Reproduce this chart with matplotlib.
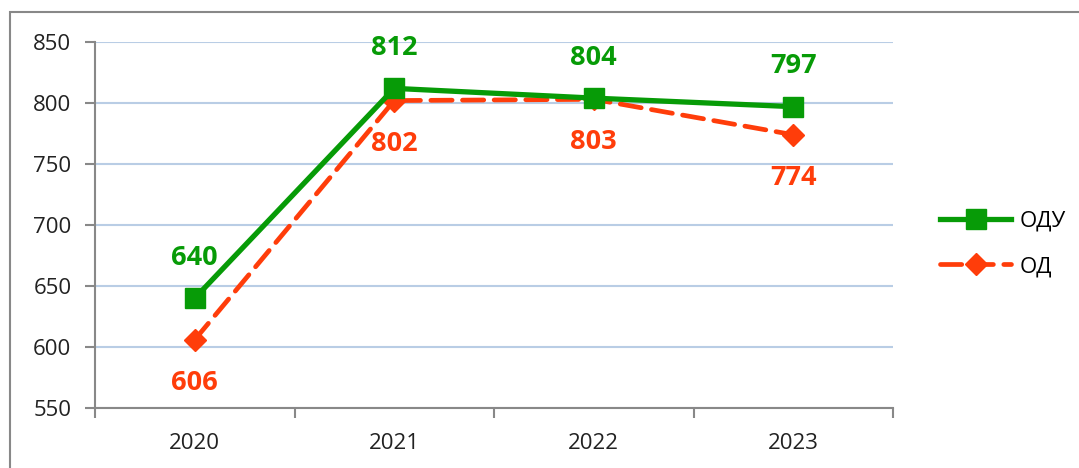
import matplotlib.pyplot as plt
from matplotlib.patches import Rectangle

years = ['2020', '2021', '2022', '2023']
odu = [640, 812, 804, 797]
od = [606, 802, 803, 774]

green = '#079B07'
red = '#FF3D0A'

plt.rcParams['font.family'] = ['Open Sans', 'DejaVu Sans']

fig = plt.figure(figsize=(10.79, 4.68), dpi=100)
ax = fig.add_axes([95 / 1079, 1 - 408 / 468, (893 - 95) / 1079, (408 - 42) / 468])

x = list(range(len(years)))
l1, = ax.plot(x, odu, color=green, lw=3.8, marker='s', markersize=15, label='ОДУ', zorder=4)
l2, = ax.plot(x, od, color=red, lw=3.4, ls=(0, (4.5, 2.2)), dash_capstyle='round',
              marker='D', markersize=11, label='ОД', zorder=3)

for i, v in enumerate(odu):
    ax.annotate(str(v), (i, v), xytext=(0, 29), textcoords='offset points', ha='center',
                va='center', color=green, fontsize=19.5, fontweight='bold')
for i, v in enumerate(od):
    ax.annotate(str(v), (i, v), xytext=(0, -31), textcoords='offset points', ha='center',
                va='center', color=red, fontsize=19.5, fontweight='bold')

ax.set_xlim(-0.5, 3.5)
ax.set_ylim(550, 850)
ax.set_yticks(range(550, 851, 50))
ax.set_xticks(x)
ax.set_xticklabels(years)
ax.set_xticks([-0.5, 0.5, 1.5, 2.5, 3.5], minor=True)
ax.tick_params(axis='x', which='major', length=0, pad=18, labelsize=16, labelcolor='#222222')
ax.tick_params(axis='x', which='minor', length=7, width=1.5, color='#888888')
ax.tick_params(axis='y', length=7, width=1.5, color='#888888', labelsize=16,
               labelcolor='#222222', pad=10)
ax.grid(axis='y', color='#B9CDE5', lw=1.5)
ax.set_axisbelow(True)
for s in ['top', 'right']:
    ax.spines[s].set_visible(False)
for s in ['left', 'bottom']:
    ax.spines[s].set_color('#888888')
    ax.spines[s].set_linewidth(1.5)

fig.legend(handles=[l1, l2], loc='center left', bbox_to_anchor=(920 / 1079, 1 - 244 / 468),
           frameon=False, fontsize=16, handlelength=3.2, labelspacing=1.1, handletextpad=0.4)

fig.patches.append(Rectangle((10 / 1079, -0.05), 1.0, 1.05 - 12 / 468,
                             transform=fig.transFigure, fill=False, edgecolor='#888888', lw=1.5))

fig.savefig('out.png', dpi=100)
